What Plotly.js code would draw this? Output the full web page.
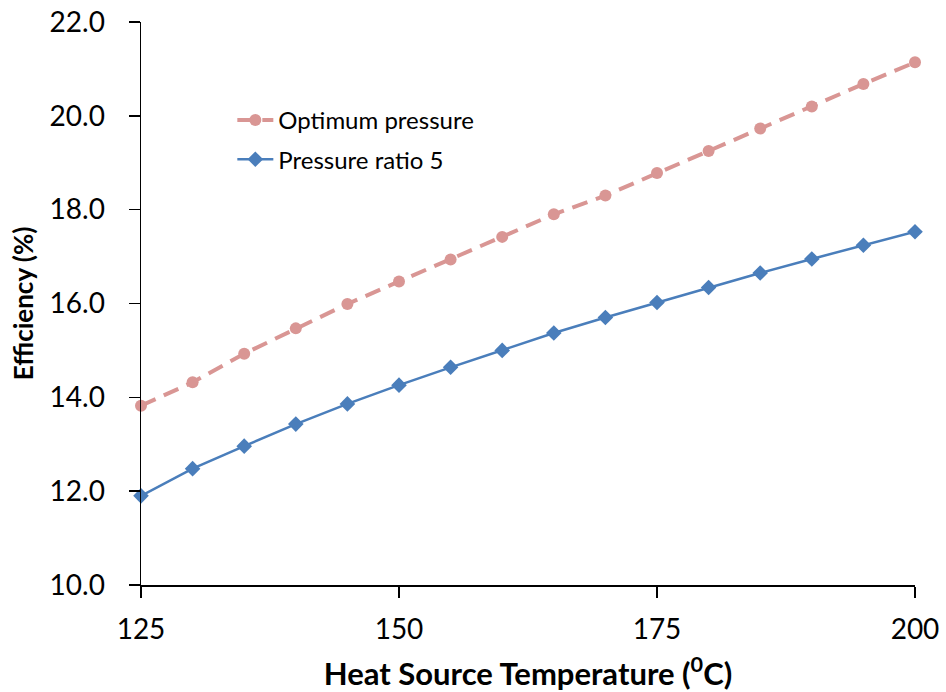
<!DOCTYPE html>
<html>
<head>
<meta charset="utf-8">
<script src="https://cdn.plot.ly/plotly-3.0.1.min.js"></script>
<style>html,body{margin:0;padding:0;background:#fff;}#chart{width:946px;height:692px;}</style>
</head>
<body>
<div id="chart"></div>
<script>
const temperature = [125,130,135,140,145,150,155,160,165,170,175,180,185,190,195,200];
const optimumPressure = [13.82,14.32,14.93,15.47,15.99,16.47,16.94,17.42,17.90,18.30,18.78,19.25,19.73,20.20,20.68,21.14];
const pressureRatio5 = [11.90,12.48,12.96,13.43,13.86,14.26,14.64,15.00,15.37,15.70,16.02,16.34,16.65,16.95,17.24,17.53];
const xTicks = [125,150,175,200];
const yTicks = [10,12,14,16,18,20,22];

const FONT = 'Lato, "Open Sans", sans-serif';

const traces = [
  {
    x: temperature, y: optimumPressure, name: 'Optimum pressure', legendgroup: 'a',
    type: 'scatter', mode: 'lines+markers', cliponaxis: false,
    line: {color: '#D99694', width: 4, dash: '16px,9px'},
    marker: {symbol: 'circle', size: 12, color: '#D99694'}
  },
  {
    x: temperature, y: pressureRatio5, name: 'Pressure ratio 5', legendgroup: 'b',
    type: 'scatter', mode: 'lines+markers', cliponaxis: false,
    line: {color: '#4A7EBB', width: 2.5},
    marker: {symbol: 'diamond', size: 12, color: '#4A7EBB'}
  }
];

const layout = {
  width: 946, height: 692,
  margin: {l: 141, r: 31, t: 22, b: 107},
  paper_bgcolor: '#fff', plot_bgcolor: '#fff',
  font: {family: FONT, color: '#000'},
  showlegend: true,
  legend: {
    x: 0.118, y: 0.865, xanchor: 'left', yanchor: 'top',
    font: {family: FONT, size: 24, color: '#000'},
    bgcolor: 'rgba(0,0,0,0)', traceorder: 'grouped', tracegroupgap: 5, itemwidth: 36
  },
  xaxis: {
    range: [125, 200], tickvals: xTicks, ticktext: xTicks.map(String),
    showgrid: false, zeroline: false, showline: true, linecolor: '#000', linewidth: 1.5,
    ticks: 'outside', ticklen: 11, tickwidth: 1.5, tickcolor: '#000',
    tickfont: {family: FONT, size: 28, color: '#000'}, ticklabelstandoff: 8,
    title: {text: 'Heat Source Temperature (<sup>0</sup>C)', font: {family: FONT, size: 31, color: '#000', weight: 'bold'}, standoff: 20}
  },
  yaxis: {
    range: [10, 22], tickvals: yTicks, ticktext: yTicks.map(v => v.toFixed(1)),
    showgrid: false, zeroline: false, showline: true, linecolor: '#000', linewidth: 1.5,
    ticks: 'outside', ticklen: 11, tickwidth: 1.5, tickcolor: '#000',
    tickfont: {family: FONT, size: 28, color: '#000'}, ticklabelstandoff: 18,
    title: {text: 'Efficiency (%)', font: {family: FONT, size: 26, color: '#000', weight: 'bold'}, standoff: 8}
  }
};

Plotly.newPlot('chart', traces, layout, {displayModeBar: false, staticPlot: true});
</script>
</body>
</html>
